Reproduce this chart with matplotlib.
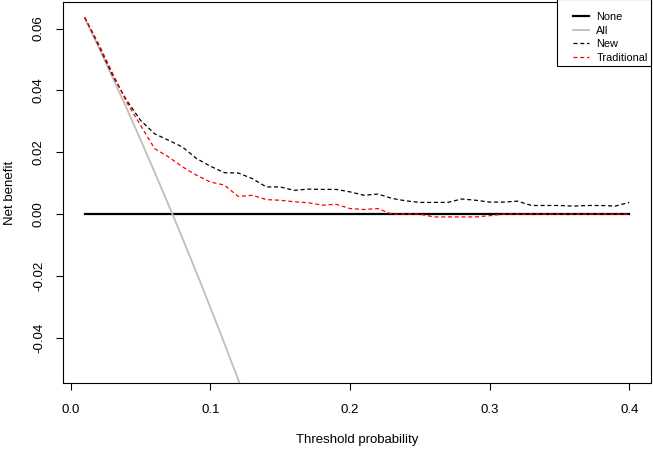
import matplotlib
matplotlib.use("Agg")
import matplotlib.pyplot as plt
from matplotlib.patches import Rectangle

plt.rcParams['font.family'] = ['Liberation Sans', 'DejaVu Sans']

# threshold probabilities 0.01 .. 0.40
thresholds = [0.01, 0.02, 0.03, 0.04, 0.05, 0.06, 0.07, 0.08, 0.09, 0.10,
              0.11, 0.12, 0.13, 0.14, 0.15, 0.16, 0.17, 0.18, 0.19, 0.20,
              0.21, 0.22, 0.23, 0.24, 0.25, 0.26, 0.27, 0.28, 0.29, 0.30,
              0.31, 0.32, 0.33, 0.34, 0.35, 0.36, 0.37, 0.38, 0.39, 0.40]

nb_none = [0.0] * len(thresholds)

# treat-all curve (only the visible part, rest falls below the plot)
all_thresholds = [0.01, 0.02, 0.03, 0.04, 0.05, 0.06, 0.07, 0.08, 0.09, 0.10,
                  0.11, 0.12, 0.13]
nb_all = [0.0634, 0.0539, 0.0441, 0.0342, 0.0240, 0.0136, 0.0030, -0.0078,
          -0.0189, -0.0302, -0.0418, -0.0536, -0.0657]

nb_new = [0.0636, 0.0545, 0.0448, 0.0368, 0.0303, 0.0260, 0.0239, 0.0217,
          0.0180, 0.0155, 0.0134, 0.0133, 0.0115, 0.0088, 0.0088, 0.0077,
          0.0081, 0.0080, 0.0080, 0.0072, 0.0061, 0.0065, 0.0051, 0.0043,
          0.0038, 0.0038, 0.0038, 0.0049, 0.0045, 0.0039, 0.0039, 0.0042,
          0.0028, 0.0028, 0.0028, 0.0026, 0.0028, 0.0028, 0.0026, 0.0038]

nb_trad = [0.0636, 0.0550, 0.0455, 0.0362, 0.0287, 0.0212, 0.0185, 0.0153,
           0.0126, 0.0104, 0.0094, 0.0057, 0.0061, 0.0047, 0.0045, 0.0040,
           0.0037, 0.0029, 0.0032, 0.0018, 0.0015, 0.0018, 0.0000, 0.0000,
           0.0000, -0.0009, -0.0009, -0.0009, -0.0009, -0.0005, 0.0000, 0.0000,
           0.0000, 0.0000, 0.0000, 0.0000, 0.0000, 0.0000, 0.0000, 0.0000]

fig = plt.figure(figsize=(6.53, 4.5), dpi=100)
ax = fig.add_axes([63 / 653, 1 - 383 / 450, (651 - 63) / 653, (383 - 2) / 450])

dash = (0, (3.2, 2.2))
ax.plot(thresholds, nb_none, color='black', lw=1.6, label='None')
ax.plot(all_thresholds, nb_all, color='#bebebe', lw=1.3, label='All')
ax.plot(thresholds, nb_new, color='black', lw=0.9, ls=dash, label='New')
ax.plot(thresholds, nb_trad, color='red', lw=0.9, ls=dash, label='Traditional')

ax.set_xlim(-0.0056, 0.4156)
ax.set_ylim(-0.0546, 0.0686)

ax.set_xticks([0.0, 0.1, 0.2, 0.3, 0.4])
ax.set_xticklabels(['0.0', '0.1', '0.2', '0.3', '0.4'])
ax.set_yticks([-0.04, -0.02, 0.00, 0.02, 0.04, 0.06])
ax.set_yticklabels(['-0.04', '-0.02', '0.00', '0.02', '0.04', '0.06'],
                   rotation=90, va='center')

ax.tick_params(direction='out', length=5, width=0.8, labelsize=9.5)
ax.tick_params(axis='x', pad=10)
ax.tick_params(axis='y', pad=8)
for s in ax.spines.values():
    s.set_linewidth(0.8)

ax.set_xlabel('Threshold probability', fontsize=9.5, labelpad=13)
ax.set_ylabel('Net benefit', fontsize=9.5, labelpad=12)

# legend box like R's legend("topright")
ax.add_patch(Rectangle((0.840, 0.832), 0.160, 0.175, transform=ax.transAxes,
                       facecolor='white', edgecolor='black', lw=0.8,
                       clip_on=False, zorder=4))
leg = ax.legend(loc='upper left', bbox_to_anchor=(0.867, 0.973),
                fontsize=7.9, frameon=False, borderaxespad=0, borderpad=0,
                handlelength=1.45, labelspacing=0.32, handletextpad=0.7)
leg.set_zorder(5)

plt.savefig('out.png', dpi=100)
plt.close()
